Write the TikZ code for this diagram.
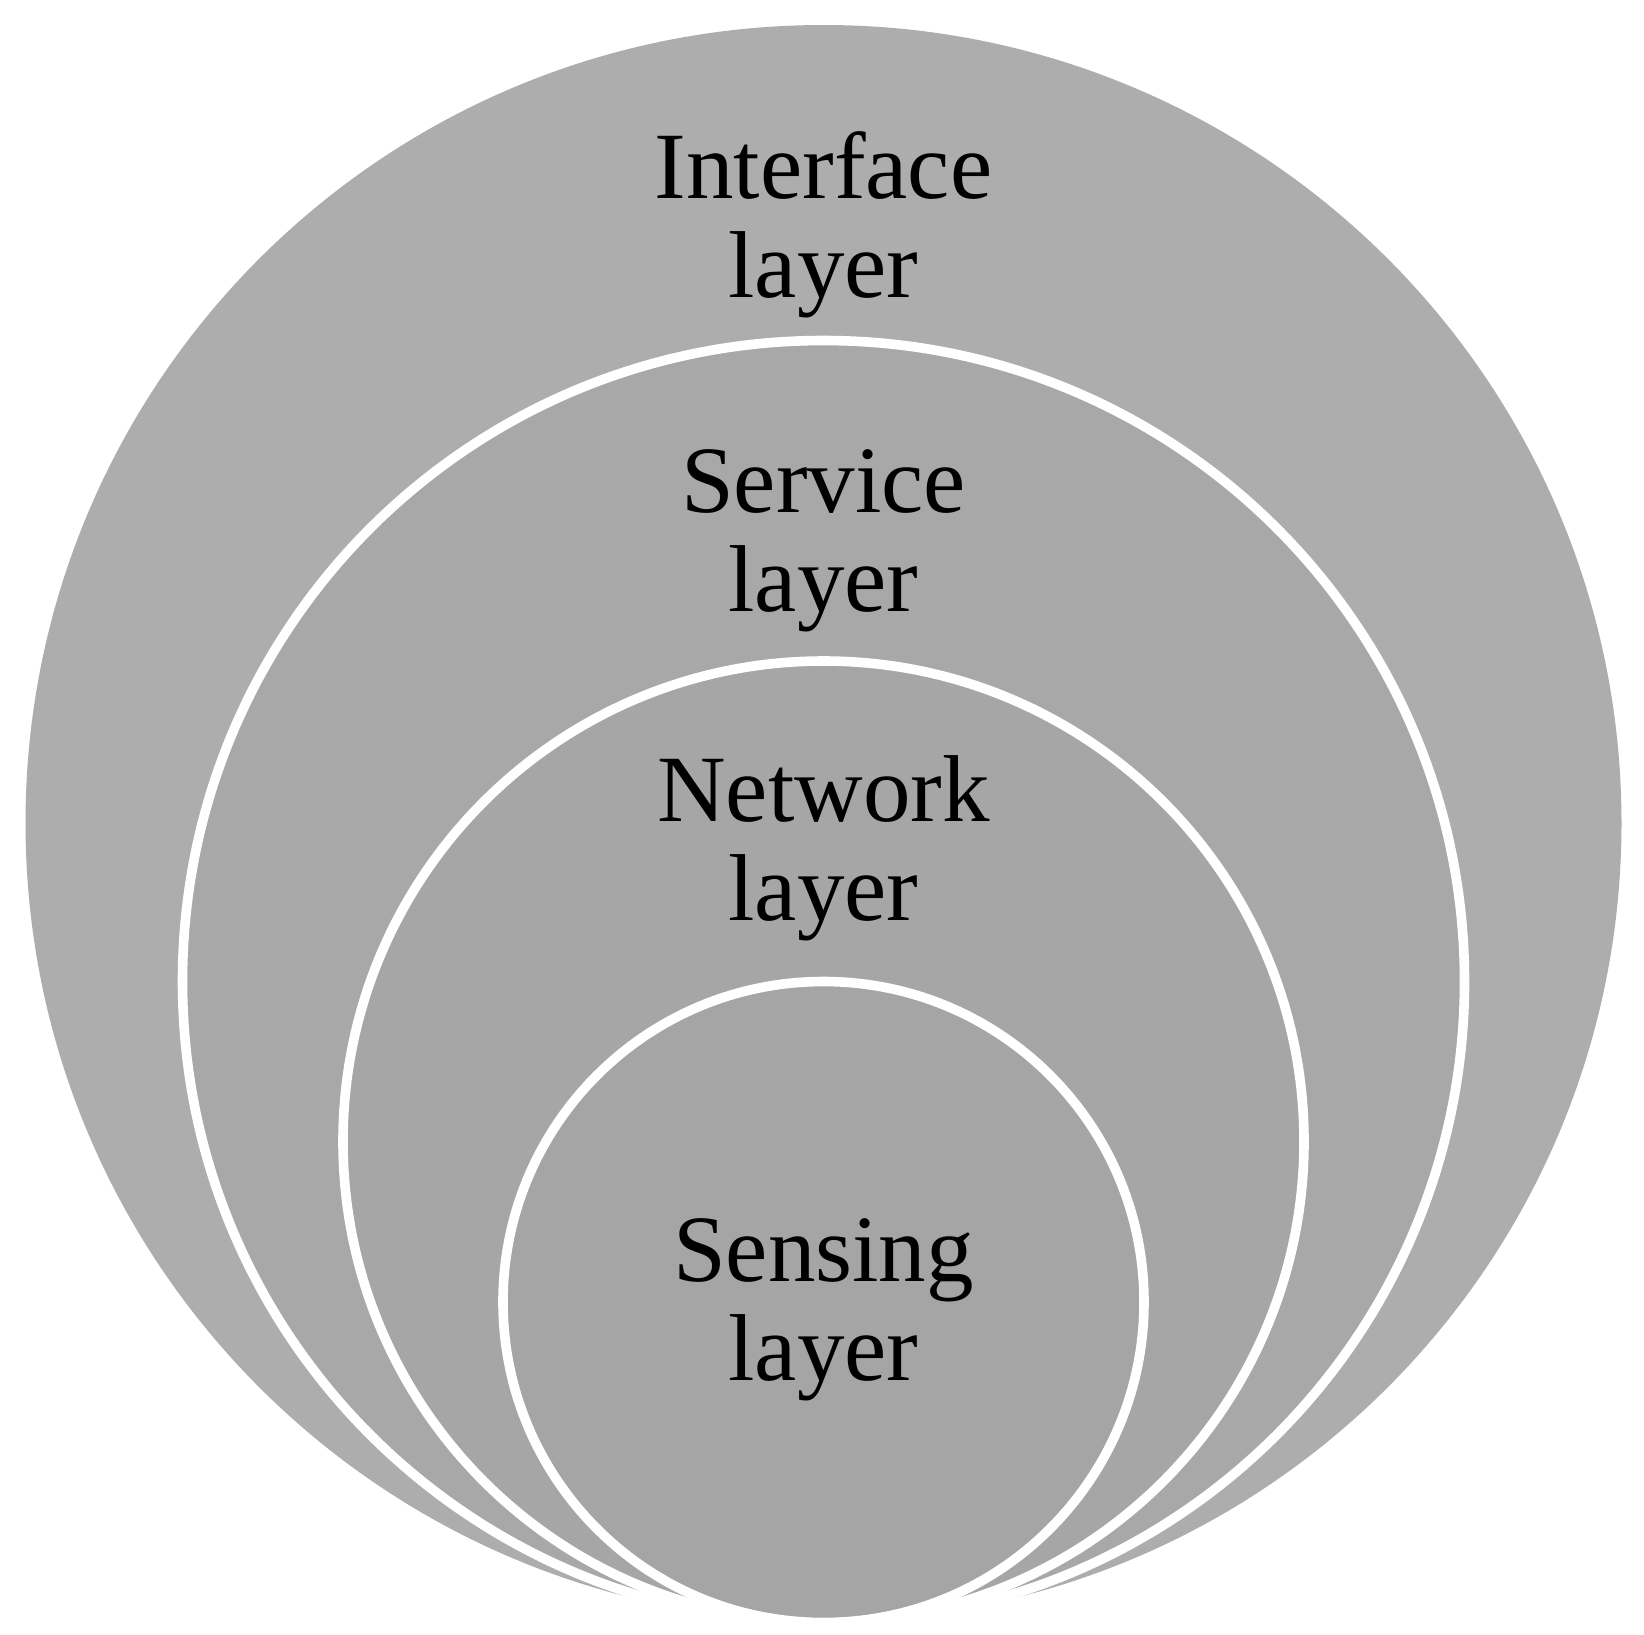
\documentclass[tikz,border=0pt]{standalone}
\usepackage{fontspec}
\setmainfont{Liberation Serif}
\definecolor{ringA}{RGB}{173,173,173}
\definecolor{ringB}{RGB}{168,168,168}
\definecolor{ringC}{RGB}{166,166,166}
\definecolor{ringD}{RGB}{165,165,165}
\begin{document}
\begin{tikzpicture}[x=0.5pt,y=-0.5pt,
  layer/.style={circle, inner sep=0pt, outer sep=0pt, draw=white, line width=4.8pt},
  lbl/.style={align=center, inner sep=0pt, anchor=base, font=\fontsize{47.5}{49.5}\selectfont}]
\useasboundingbox (0,0) rectangle (1644,1634);
\node[layer, draw=none, fill=ringA, minimum size=798pt] (interface) at (823.5,823) {};
\node[layer, fill=ringB, minimum size=641pt] (service) at (823.5,981.5) {};
\node[layer, fill=ringC, minimum size=480.5pt] (network) at (823.5,1141.5) {};
\node[layer, fill=ringD, minimum size=320.5pt] (sensing) at (823.5,1302) {};
\node[lbl] (t1) at (823.5,297) {Interface\\layer};
\node[lbl] (t2) at (823.5,611) {Service\\layer};
\node[lbl] (t3) at (823.5,920) {Network\\layer};
\node[lbl] (t4) at (823.5,1380) {Sensing\\layer};
\end{tikzpicture}
\end{document}
